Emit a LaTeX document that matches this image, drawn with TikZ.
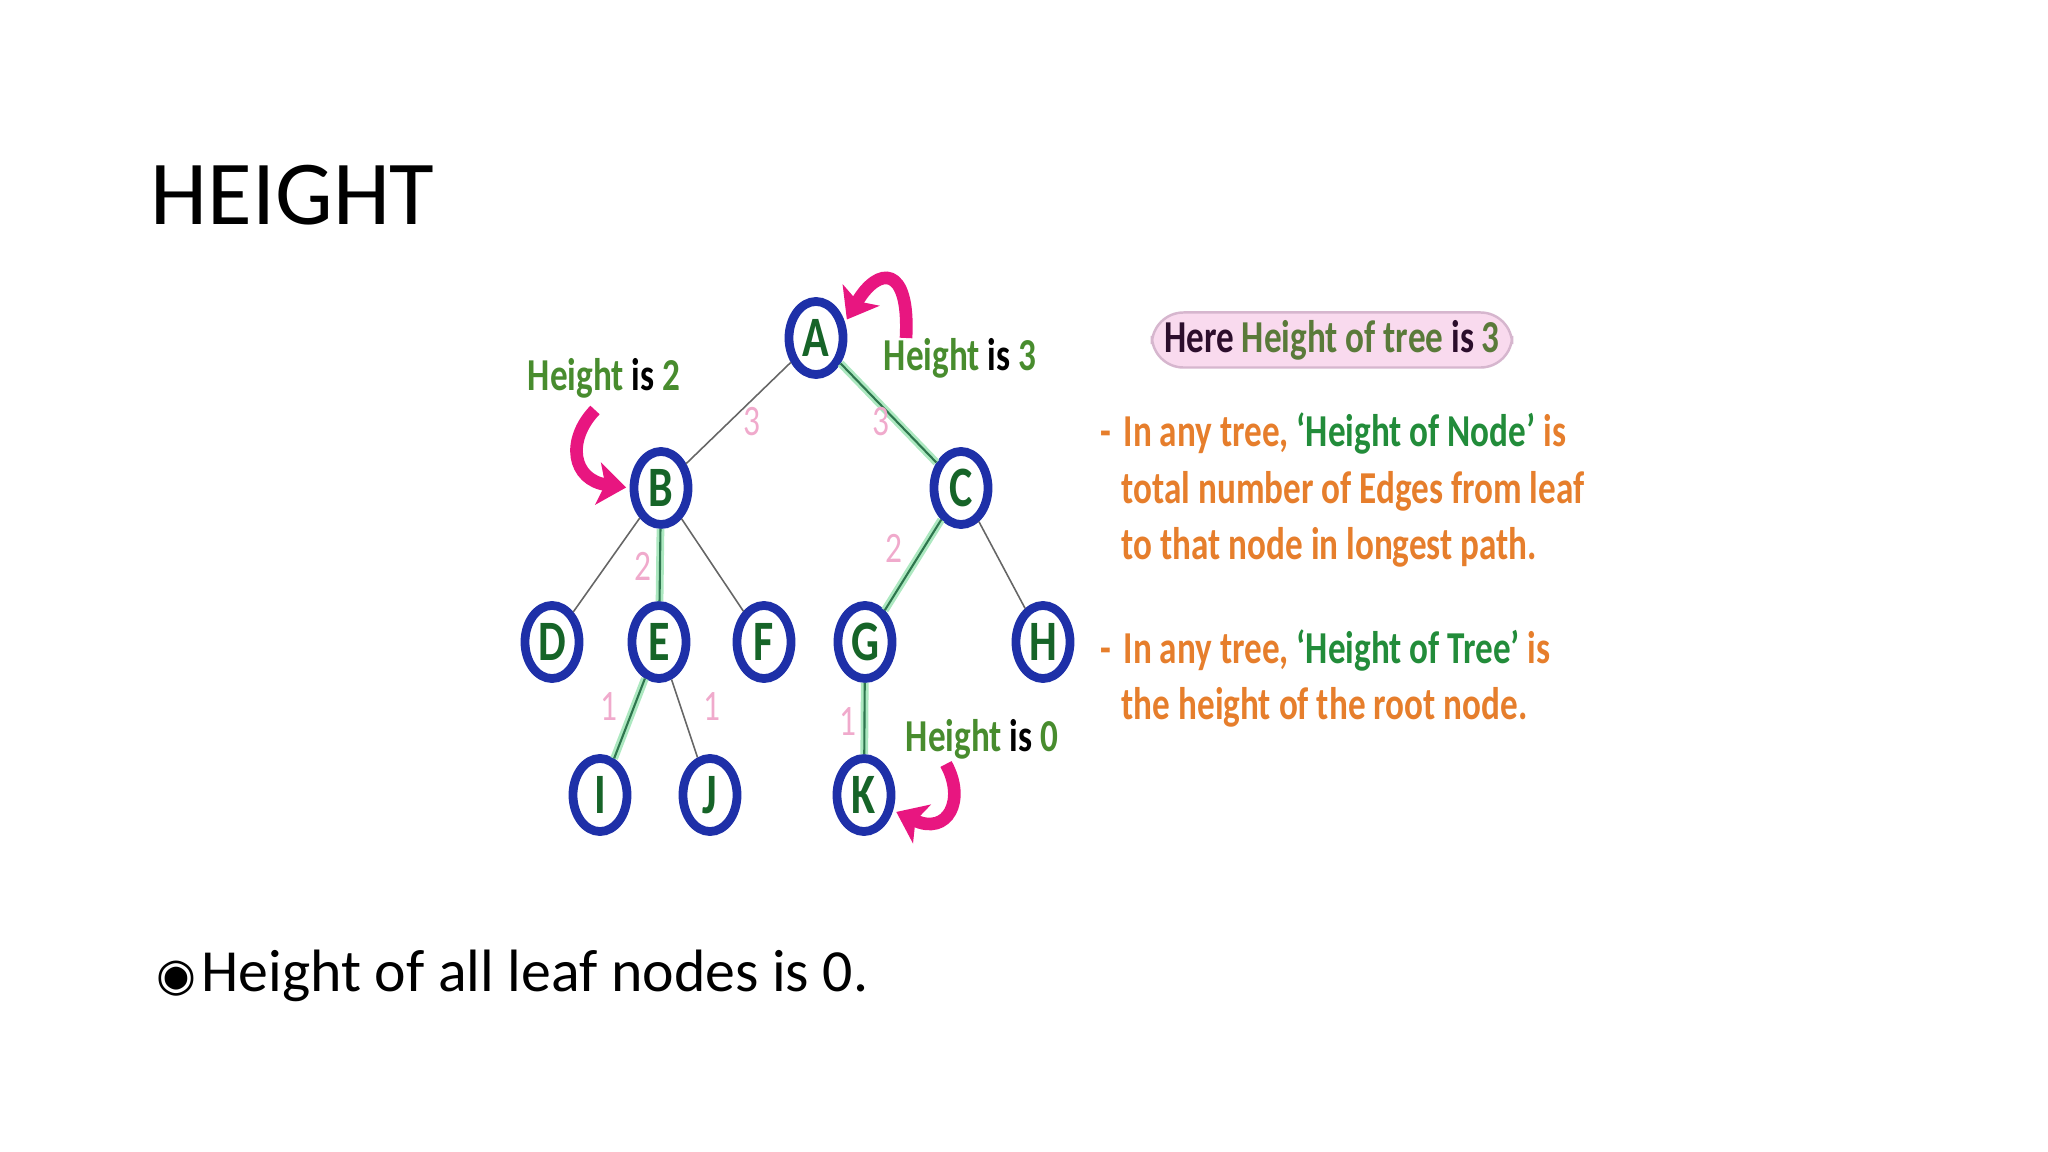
\documentclass[tikz,border=0pt]{standalone}
\usepackage{fontspec}
\setmainfont{Carlito}
\newfontfamily\symfont{DejaVu Sans}
\usetikzlibrary{shapes.geometric,arrows.meta}

\definecolor{ringblue}{RGB}{30,48,168}
\definecolor{lettergreen}{RGB}{22,100,40}
\definecolor{labelgreen}{RGB}{72,140,46}
\definecolor{numpink}{RGB}{240,170,204}
\definecolor{arrowpink}{RGB}{232,22,128}
\definecolor{glowgreen}{RGB}{172,232,192}
\definecolor{pathgreen}{RGB}{46,118,78}
\definecolor{noteorange}{RGB}{230,126,44}
\definecolor{notegreen}{RGB}{34,140,58}
\definecolor{boxpink}{RGB}{249,218,238}
\definecolor{boxline}{RGB}{214,182,206}
\definecolor{heredark}{RGB}{44,14,44}
\definecolor{treeolive}{RGB}{90,122,58}

\newcommand{\tall}[1]{\scalebox{1}[1.3]{#1}}

\tikzset{
  treenode/.style={ellipse, draw=ringblue, line width=2.5pt, minimum width=0.54cm,
    minimum height=0.73cm, inner sep=0pt, text=lettergreen,
    font=\fontsize{12.5}{12.5}\selectfont\bfseries},
  plainedge/.style={draw=black!60, line width=0.45pt},
  glowedge/.style={draw=glowgreen, line width=2.2pt},
  longedge/.style={draw=pathgreen, line width=0.6pt},
  edgenum/.style={text=numpink, inner sep=0pt, font=\fontsize{9.5}{9.5}\selectfont},
  heightlabel/.style={text=labelgreen, inner sep=0pt, font=\fontsize{10}{10}\selectfont\bfseries},
  notetext/.style={anchor=base west, inner sep=0pt, text=noteorange,
    font=\fontsize{10}{10}\selectfont\bfseries},
  pinkarrow/.style={draw=arrowpink, line width=3.6pt,
    -{Stealth[length=8pt,width=12pt,inset=2pt]}, shorten >=1pt}
}

\begin{document}
\begin{tikzpicture}[x=0.01cm,y=-0.01cm]
\useasboundingbox (0,0) rectangle (2048,1152);

%% slide title
\node[anchor=base west, inner sep=0pt, font=\fontsize{26}{26}\selectfont] (title) at (150,225) {HEIGHT};

%% the tree
\node[treenode] (A) at (816,338) {\tall{A}};
\node[treenode] (B) at (661,488) {\tall{B}};
\node[treenode] (C) at (961,488) {\tall{C}};
\node[treenode] (D) at (552,642) {\tall{D}};
\node[treenode] (E) at (659,642) {\tall{E}};
\node[treenode] (F) at (764,642) {\tall{F}};
\node[treenode] (G) at (865,642) {\tall{G}};
\node[treenode] (H) at (1043,642) {\tall{H}};
\node[treenode] (I) at (600,795) {\tall{I}};
\node[treenode] (J) at (710,795) {\tall{J}};
\node[treenode] (K) at (864,795) {\tall{K}};

%% longest paths get a green glow
\foreach \u/\v in {A/C,C/G,G/K,B/E,E/I} {
  \draw[glowedge] (\u) -- (\v);
  \draw[longedge] (\u) -- (\v);
}
\foreach \u/\v in {A/B,B/D,B/F,C/H,E/J}
  \draw[plainedge] (\u) -- (\v);

%% edge counts
\node[edgenum] (nAB) at (752,422) {\tall{3}};
\node[edgenum] (nAC) at (881,422) {\tall{3}};
\node[edgenum] (nBE) at (643,566) {\tall{2}};
\node[edgenum] (nCG) at (894,548) {\tall{2}};
\node[edgenum] (nEI) at (609,707) {\tall{1}};
\node[edgenum] (nEJ) at (712,707) {\tall{1}};
\node[edgenum] (nGK) at (848,722) {\tall{1}};

%% height labels and their arrows
\node[heightlabel] (hB) at (604,378) {\tall{Height \textcolor{black}{is} 2}};
\node[heightlabel] (hA) at (960,358) {\tall{Height \textcolor{black}{is} 3}};
\node[heightlabel] (hK) at (982,739) {\tall{Height \textcolor{black}{is} 0}};

\coordinate (tailA) at (906,338);
\coordinate (tailB) at (595,410);
\coordinate (tailK) at (946,764);
\draw[pinkarrow] (tailA) .. controls (910,264) and (878,266) .. (A.28);
\draw[pinkarrow] (tailB) .. controls (566,440) and (572,480) .. (B.180);
\draw[pinkarrow] (tailK) .. controls (966,800) and (948,836) .. (K.-28);

%% notes on the right
\node[draw=boxline, fill=boxpink, rounded corners=9pt, line width=0.7pt,
  minimum width=3.6cm, minimum height=0.55cm, inner sep=0pt, text=treeolive,
  font=\fontsize{10}{10}\selectfont\bfseries] (treebox) at (1332,340)
  {\tall{\textcolor{heredark}{Here} Height of tree \textcolor{heredark}{is} 3}};

\node[notetext] (dash1) at (1100,447) {\tall{-}};
\node[notetext] (note1) at (1123,447) {\tall{In any tree, \textcolor{notegreen}{‘Height of Node’} is}};
\node[notetext] (note2) at (1121,504) {\tall{total number of Edges from leaf}};
\node[notetext] (note3) at (1121,560) {\tall{to that node in longest path.}};
\node[notetext] (dash2) at (1100,663) {\tall{-}};
\node[notetext] (note4) at (1123,663) {\tall{In any tree, \textcolor{notegreen}{‘Height of Tree’} is}};
\node[notetext] (note5) at (1121,719) {\tall{the height of the root node.}};

%% bullet line at the bottom
\node[inner sep=0pt, font=\symfont\fontsize{13}{13}\selectfont] (bullet) at (176,979) {◉};
\node[anchor=base west, inner sep=0pt, font=\fontsize{17}{17}\selectfont] (leafnote) at (201,991) {Height of all leaf nodes is 0.};
\end{tikzpicture}
\end{document}
